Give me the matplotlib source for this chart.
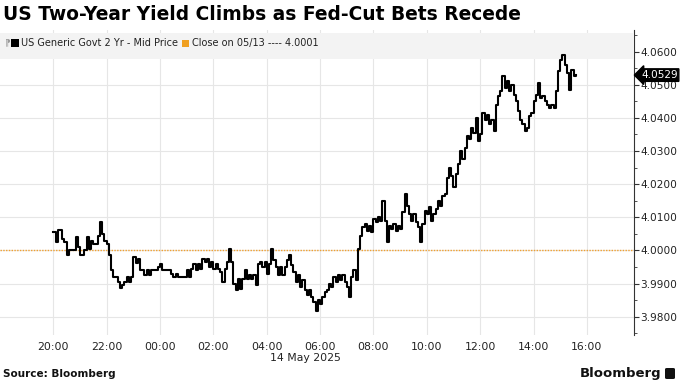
import matplotlib
matplotlib.use("Agg")
import matplotlib.pyplot as plt
import matplotlib.dates as mdates
from matplotlib.patches import Rectangle, FancyBboxPatch
import pandas as pd

# ---------------- data ----------------
start_time = "2025-05-13 20:00"
step = "5min"
yield_values = [
    4.0055, 4.0025, 4.0063, 4.0063, 4.0035, 4.0025, 3.9985, 4.0000, 4.0000, 4.0000,
    4.0040, 4.0010, 3.9985, 3.9985, 4.0000, 4.0040, 4.0005, 4.0030, 4.0020, 4.0020,
    4.0045, 4.0085, 4.0050, 4.0030, 4.0020, 3.9985, 3.9940, 3.9920, 3.9920, 3.9905,
    3.9887, 3.9895, 3.9905, 3.9920, 3.9905, 3.9920, 3.9980, 3.9963, 3.9975, 3.9940,
    3.9940, 3.9925, 3.9940, 3.9925, 3.9940, 3.9940,
    3.9940, 3.9950, 3.9960, 3.9940, 3.9940, 3.9940, 3.9940, 3.9930, 3.9920, 3.9930,
    3.9920, 3.9920, 3.9920, 3.9920, 3.9940, 3.9920, 3.9945, 3.9960, 3.9940, 3.9960,
    3.9945, 3.9975, 3.9965, 3.9975, 3.9950, 3.9965, 3.9945, 3.9960, 3.9945, 3.9935,
    3.9905, 3.9945, 3.9965, 4.0005, 3.9965, 3.9900, 3.9880, 3.9915, 3.9885, 3.9915,
    3.9940, 3.9915, 3.9925, 3.9915, 3.9925, 3.9895, 3.9960, 3.9965, 3.9950, 3.9965,
    3.9930, 3.9960, 4.0005, 3.9970, 3.9950, 3.9925, 3.9950, 3.9925, 3.9950, 3.9970,
    3.9985, 3.9955, 3.9935, 3.9905, 3.9925, 3.9890, 3.9910, 3.9880, 3.9865, 3.9880,
    3.9860, 3.9845, 3.9818, 3.9850, 3.9840, 3.9860, 3.9875, 3.9880, 3.9900, 3.9890,
    3.9920, 3.9905, 3.9925, 3.9910, 3.9925, 3.9905, 3.9890, 3.9860, 3.9920, 3.9940,
    3.9910,
    4.0005, 4.0045, 4.0070, 4.0080, 4.0060, 4.0075, 4.0055, 4.0095, 4.0085, 4.0100,
    4.0090, 4.0150, 4.0090, 4.0025, 4.0075, 4.0065, 4.0080, 4.0060, 4.0075, 4.0065,
    4.0115, 4.0170, 4.0135, 4.0110, 4.0090, 4.0110, 4.0085, 4.0070, 4.0025, 4.0080,
    4.0120, 4.0110, 4.0130, 4.0090, 4.0110, 4.0125, 4.0150, 4.0135, 4.0165, 4.0170,
    4.0220, 4.0250, 4.0225, 4.0190, 4.0230, 4.0260, 4.0300, 4.0275, 4.0310, 4.0345,
    4.0335, 4.0370, 4.0355, 4.0400, 4.0330, 4.0350, 4.0415, 4.0395, 4.0410, 4.0380,
    4.0395, 4.0360, 4.0440, 4.0465, 4.0480, 4.0525, 4.0490, 4.0510, 4.0480, 4.0500,
    4.0470,
    4.0450, 4.0420, 4.0395, 4.0380, 4.0360, 4.0370, 4.0405, 4.0415, 4.0450, 4.0470,
    4.0505, 4.0460, 4.0465, 4.0450, 4.0440, 4.0430, 4.0440, 4.0430, 4.0480, 4.0540,
    4.0575, 4.0590, 4.0560, 4.0535, 4.0485, 4.0545, 4.0525, 4.0529,
]
prev_close = 4.0001
last_value = 4.0529
y_ticks = [3.98, 3.99, 4.00, 4.01, 4.02, 4.03, 4.04, 4.05, 4.06]
x_tick_times = pd.date_range("2025-05-13 20:00", "2025-05-14 16:00", freq="2h")
x_range = (pd.Timestamp("2025-05-13 18:00"), pd.Timestamp("2025-05-14 17:46"))
y_range = (3.9745, 4.0665)
title = "US Two-Year Yield Climbs as Fed-Cut Bets Recede"
series_label = "US Generic Govt 2 Yr - Mid Price"
close_label = "Close on 05/13 ---- 4.0001"
date_label = "14 May 2025"
source = "Source: Bloomberg"

times = pd.date_range(start_time, periods=len(yield_values), freq=step)

# ---------------- figure ----------------
W, H = 680, 382
fig = plt.figure(figsize=(W / 100, H / 100), dpi=100)
ax = fig.add_axes([0, 47 / H, 634 / W, (335 - 30) / H])

grid_c = "#e6e6e6"
ax.set_xlim(*x_range)
ax.set_ylim(*y_range)
ax.set_yticks(y_ticks)
ax.set_yticks([v + 0.005 for v in [3.97] + y_ticks], minor=True)
ax.set_xticks(x_tick_times)
ax.xaxis.set_major_formatter(mdates.DateFormatter("%H:%M"))
ax.yaxis.tick_right()
ax.yaxis.set_major_formatter(matplotlib.ticker.FuncFormatter(lambda v, p: f"{v:.4f}"))
for s in ["top", "left", "bottom"]:
    ax.spines[s].set_visible(False)
ax.spines["right"].set_color("#333333")
ax.spines["right"].set_linewidth(0.8)
ax.tick_params(axis="y", which="major", length=3.5, width=0.8, color="#333333",
               labelsize=7.6, labelcolor="#222222", pad=1)
ax.tick_params(axis="y", which="minor", length=2.2, width=0.6, color="#333333")
ax.tick_params(axis="x", length=0, labelsize=7.8, labelcolor="#222222", pad=5)
ax.grid(True, which="major", color=grid_c, linewidth=0.8)
ax.set_axisbelow(True)

# previous close
ax.axhline(prev_close, color="#f0a030", linestyle=(0, (1, 1)), linewidth=1.0, zorder=2)

# main series
ax.step(times, yield_values, where="post", color="black", linewidth=1.5, zorder=4)

# legend band
ax.add_patch(Rectangle((0, (y_range[1] - 0.0008) - 0.0078), 1, 0.0078,
                       transform=ax.get_yaxis_transform(which="grid"),
                       facecolor="#f3f3f3", edgecolor="none", zorder=3))
fig.text(5 / W, 1 - 43 / H, "⁋", fontsize=6.5, color="#999999", va="center", ha="left")
fig.patches.append(Rectangle((11 / W, 1 - 47 / H), 8 / W, 8 / H, transform=fig.transFigure,
                             facecolor="black", edgecolor="none"))
fig.text(21 / W, 1 - 43 / H, series_label, fontsize=7, color="#222222", va="center", ha="left")
fig.patches.append(Rectangle((182 / W, 1 - 47 / H), 7 / W, 7 / H, transform=fig.transFigure,
                             facecolor="#f0a020", edgecolor="none"))
fig.text(192 / W, 1 - 43 / H, close_label, fontsize=7, color="#222222", va="center", ha="left")

# last value tag
ax.annotate(f"{last_value:.4f}", xy=(1, last_value), xycoords=("axes fraction", "data"),
            xytext=(5, 0), textcoords="offset points", ha="left", va="center",
            fontsize=7.6, color="white",
            bbox=dict(boxstyle="larrow,pad=0.12", fc="black", ec="black"), zorder=10,
            annotation_clip=False)

# date label
fig.text(305 / W, 1 - 358 / H, date_label, fontsize=7.8, color="#222222", ha="center", va="center")

# title & source
fig.text(3 / W, 1 - 15 / H, title, fontsize=13.4, fontweight="bold", color="black",
         ha="left", va="center")
fig.text(3 / W, 1 - 374 / H, source, fontsize=7.5, fontweight="bold", color="#111111",
         ha="left", va="center")
fig.text(661 / W, 1 - 373 / H, "Bloomberg", fontsize=9.5, fontweight="bold", color="#111111",
         ha="right", va="center")
fig.patches.append(FancyBboxPatch((665 / W, 1 - 379 / H), 10 / W, 11 / H,
                                  boxstyle="round,pad=0,rounding_size=0.003",
                                  transform=fig.transFigure, facecolor="#111111", edgecolor="none"))

fig.savefig("out.png", dpi=100)
